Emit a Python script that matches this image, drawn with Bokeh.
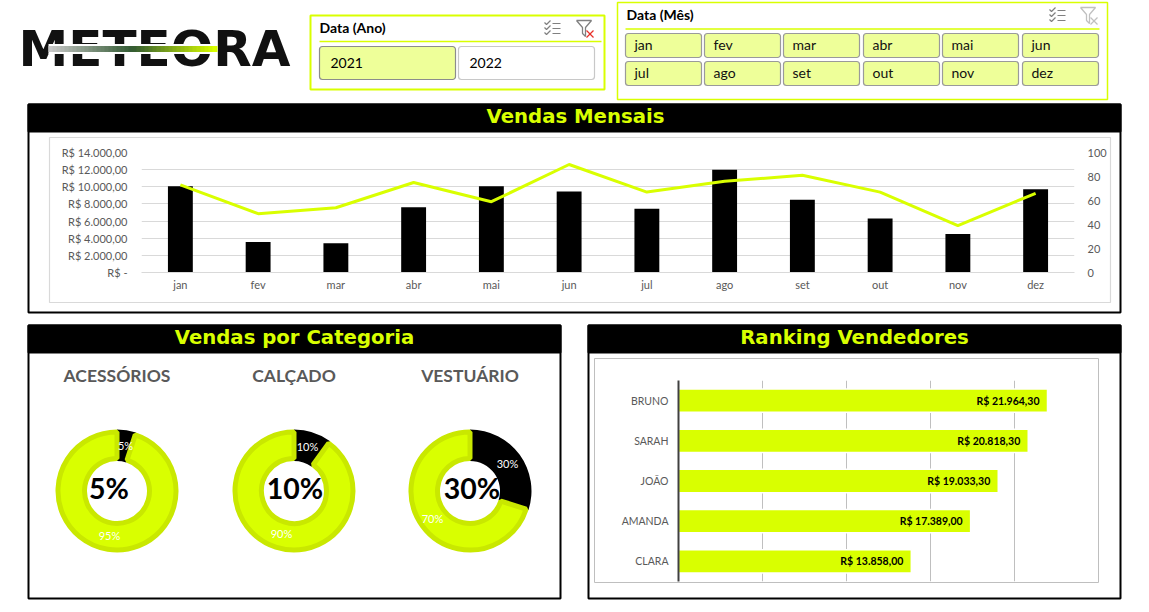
from math import pi
from bokeh.plotting import figure
from bokeh.layouts import column, row
from bokeh.models import Range1d, FactorRange, LinearAxis, FixedTicker, ColumnDataSource
from bokeh.core.properties import value
from bokeh.embed import file_html
from bokeh.resources import INLINE

# ---------- data ----------
months = ["jan", "fev", "mar", "abr", "mai", "jun", "jul", "ago", "set", "out", "nov", "dez"]
sales = [10050, 3550, 3400, 7600, 10050, 9450, 7450, 12000, 8500, 6300, 4500, 9700]
quantity = [73, 49, 54, 75, 59, 90, 67, 76, 81, 67, 39, 66]
sales_ticks = [0, 2000, 4000, 6000, 8000, 10000, 12000, 14000]
sales_tick_labels = ["R$ -", "R$ 2.000,00", "R$ 4.000,00", "R$ 6.000,00", "R$ 8.000,00",
                     "R$ 10.000,00", "R$ 12.000,00", "R$ 14.000,00"]
quantity_ticks = [0, 20, 40, 60, 80, 100]
categories = ["ACESSÓRIOS", "CALÇADO", "VESTUÁRIO"]
category_share = [5, 10, 30]
sellers = ["BRUNO", "SARAH", "JOÃO", "AMANDA", "CLARA"]
seller_values = [21964.30, 20818.30, 19033.30, 17389.00, 13858.00]
seller_labels = ["R$ 21.964,30", "R$ 20.818,30", "R$ 19.033,30", "R$ 17.389,00", "R$ 13.858,00"]
seller_ticks = [0, 5000, 10000, 15000, 20000, 25000]
years = ["2021", "2022"]

LIME = "#d9ff00"
LIME_DARK = "#c9e800"
SOFT = "#eeff99"
GREY_TXT = "#595959"
TXT_FONT = "Lato"
HEAD_FONT = "DejaVu Sans"


def bare(**kw):
    p = figure(output_backend="svg", toolbar_location=None, min_border=0, frame_align=False,
               x_axis_type=None, y_axis_type=None, **kw)
    p.outline_line_color = None
    p.grid.visible = False
    return p


def clear_bg(p):
    p.background_fill_color = None
    p.border_fill_color = None


# ---------- page backdrop: logo, slicers and panel frames ----------
bg = bare(width=1149, height=612, x_range=(0, 1149), y_range=(612, 0))


def txt(x, y, s, size, color="black", bold=False, font=TXT_FONT, align="left"):
    bg.text([x], [y], text=[s], text_font=value(font), text_font_size=f"{size}px", text_color=color,
            text_font_style="bold" if bold else "normal", text_align=align, text_baseline="middle")


def panel(l, t, r, b, title, tx):
    bg.quad(left=l, right=r, top=t, bottom=b, fill_color="white", line_color="black", line_width=2)
    bg.quad(left=l, right=r, top=t, bottom=t + 27, fill_color="black", line_color="black", line_width=2)
    txt(tx, t + 12, title, 19.7, color=LIME, bold=True, font=HEAD_FONT, align="center")


panel(28, 104, 1120, 312, "Vendas Mensais", 575)
panel(28, 325, 560, 598, "Vendas por Categoria", 294)
panel(588, 325, 1120, 598, "Ranking Vendedores", 854)
bg.quad(left=49, right=1110, top=137, bottom=302, fill_color=None, line_color="#d9d9d9", line_width=1.2)
bg.quad(left=594, right=1098, top=358, bottom=582, fill_color=None, line_color="#bfbfbf", line_width=1)

# logo
txt(154, 48, "METEORA", 50, color="#111111", bold=True, font=HEAD_FONT, align="center")
bg.quad(left=48, right=216, top=43.5, bottom=53.5, fill_color="white", line_color=None)
n_steps = 42
for i in range(n_steps):
    f = i / (n_steps - 1)
    c = (int(200 - 150 * min(f * 2, 1) + 167 * max(f * 2 - 1, 0)),
         int(200 - 110 * min(f * 2, 1) + 165 * max(f * 2 - 1, 0)),
         int(200 - 150 * min(f * 2, 1) - 50 * max(f * 2 - 1, 0)))
    bg.quad(left=48 + i * 4, right=53 + i * 4, top=45.5, bottom=51.5, fill_color="#%02x%02x%02x" % c, line_color=None)


def checklist(x, y):
    bg.multi_line([[x + 8, x + 16] for _ in range(3)], [[y + d, y + d] for d in (3, 8, 13)],
                  line_color="#808080", line_width=1.2)
    bg.multi_line([[x, x + 2, x + 6] for _ in range(3)], [[y + d, y + d + 2, y + d - 2] for d in (2, 7, 12)],
                  line_color="#808080", line_width=1.2)


def funnel(x, y, col, xcol):
    bg.line([x, x + 15, x + 9, x + 9, x + 6, x + 6, x], [y, y, y + 7, y + 16, y + 13, y + 7, y], line_color=col, line_width=1.3)
    bg.multi_line([[x + 10, x + 17], [x + 17, x + 10]], [[y + 10, y + 17], [y + 10, y + 17]], line_color=xcol, line_width=1.3)


# year slicer
bg.quad(left=310, right=604, top=15, bottom=89, fill_color="white", line_color=LIME, line_width=2)
txt(319, 27, "Data (Ano)", 14, bold=True)
bg.line([319, 601], [41, 41], line_color=LIME, line_width=1.5)
checklist(544, 20)
funnel(576, 20, "#808080", "#e8302a")
for i, y_txt in enumerate(years):
    left = 319 + i * 139
    bg.quad(left=left, right=left + 136, top=46, bottom=79, fill_color=SOFT if i == 0 else "white",
            line_color="#8c8c8c" if i == 0 else "#c8c8c8", line_width=1.2, border_radius=3)
    txt(left + 11, 62, y_txt, 14)

# month slicer
bg.quad(left=617, right=1107, top=2, bottom=99, fill_color="white", line_color=LIME, line_width=1.5)
txt(626, 14, "Data (Mês)", 14, bold=True)
bg.line([625, 1099], [28.5, 28.5], line_color=LIME, line_width=1.5)
checklist(1049, 7)
funnel(1080, 7, "#c0c0c0", "#c0c0c0")
col_left = [625, 704, 783, 863, 942, 1022]
for i, m in enumerate(months):
    left = col_left[i % 6]
    y0 = 33 if i < 6 else 61
    bg.quad(left=left, right=left + 76, top=y0, bottom=y0 + 24, fill_color=SOFT, line_color="#9a9a9a",
            line_width=1.2, border_radius=3)
    txt(left + 9, y0 + 10.5, m, 14, color="#111111")

# ---------- monthly chart ----------
p1 = figure(output_backend="svg", toolbar_location=None, width=1149, height=215, frame_align=False,
            x_range=FactorRange(factors=months), y_range=Range1d(0, 14000),
            min_border_left=141, min_border_right=75, min_border_top=49, min_border_bottom=46)
p1.outline_line_color = None
clear_bg(p1)
p1.extra_y_ranges = {"qty": Range1d(0, 100)}
p1.vbar(x=months, top=sales, width=0.32, fill_color="black", line_color=None)
p1.line(x=months, y=quantity, y_range_name="qty", line_color=LIME, line_width=3)
p1.yaxis.ticker = FixedTicker(ticks=sales_ticks)
p1.yaxis.major_label_overrides = dict(zip(sales_ticks, sales_tick_labels))
right_axis = LinearAxis(y_range_name="qty", ticker=FixedTicker(ticks=quantity_ticks))
p1.add_layout(right_axis, "right")
for ax in [p1.yaxis[0], right_axis, p1.xaxis[0]]:
    ax.axis_line_color = None
    ax.major_tick_line_color = None
    ax.major_tick_out = 0
    ax.minor_tick_line_color = None
    ax.major_label_text_color = GREY_TXT
    ax.major_label_text_font = TXT_FONT
    ax.major_label_text_font_size = "11px"
p1.yaxis[0].major_label_standoff = 14
right_axis.major_label_standoff = 13
p1.xaxis[0].major_label_standoff = 5
p1.xaxis[0].axis_line_color = "#d9d9d9"
p1.xgrid.grid_line_color = None
p1.ygrid.grid_line_color = "#d9d9d9"

# ---------- category donuts ----------
p2 = bare(width=575, height=294, x_range=(0, 575), y_range=(0, 294))
clear_bg(p2)
Y = lambda v: 612 - v
centers = [116.5, 293.5, 469.5]
cy = Y(490.5)
black_pos = [(125, 445), (307, 446), (507, 463)]
lime_pos = [(109, 535), (281, 533), (432, 518)]
text_dx = [-8, 1, 2]
for cat, share, cx, bp, lp, dx in zip(categories, category_share, centers, black_pos, lime_pos, text_dx):
    a = 2 * pi * share / 100
    p2.annular_wedge(x=[cx], y=[cy], inner_radius=30, outer_radius=61.5, start_angle=pi / 2 - a,
                     end_angle=pi / 2, direction="anticlock", fill_color="black", line_color=None)
    p2.annular_wedge(x=[cx], y=[cy], inner_radius=32.5, outer_radius=59, start_angle=pi / 2,
                     end_angle=5 * pi / 2 - a, direction="anticlock", fill_color=LIME, line_color=LIME_DARK, line_width=5)
    for pos, s in ((bp, share), (lp, 100 - share)):
        p2.text([pos[0]], [Y(pos[1])], text=[f"{s}%"], text_font=value(TXT_FONT), text_font_size="11px",
                text_color="white", text_align="center", text_baseline="middle")
    p2.text([cx + dx], [Y(487.5)], text=[f"{share}%"], text_font=value(TXT_FONT), text_font_size="28.5px", text_color="black",
            text_font_style="bold", text_align="center", text_baseline="middle")
    p2.text([cx], [Y(375)], text=[cat], text_font=value(TXT_FONT), text_font_size="17.5px", text_font_style="bold",
            text_color=GREY_TXT, text_align="center", text_baseline="middle")

# ---------- ranking ----------
p3 = figure(output_backend="svg", toolbar_location=None, width=574, height=294, frame_align=False,
            x_range=Range1d(0, 25000), y_range=FactorRange(factors=sellers[::-1]),
            min_border_left=103, min_border_right=51, min_border_top=62, min_border_bottom=31)
p3.outline_line_color = None
clear_bg(p3)
src = ColumnDataSource(dict(name=sellers, value=seller_values, text=seller_labels))
p3.hbar(y="name", right="value", height=0.58, source=src, fill_color=LIME, line_color="white", line_width=1.5)
p3.text(x="value", y="name", text="text", source=src, x_offset=-8, text_align="right", text_baseline="middle",
        text_font=value(TXT_FONT), text_font_size="10.5px", text_font_style="bold", text_color="black")
p3.xaxis.visible = False
p3.xaxis.ticker = FixedTicker(ticks=seller_ticks)
p3.xgrid.ticker = FixedTicker(ticks=seller_ticks)
p3.xgrid.grid_line_color = "#bfbfbf"
p3.ygrid.grid_line_color = None
p3.yaxis.axis_line_color = "#404040"
p3.yaxis.axis_line_width = 2
p3.yaxis.major_tick_line_color = None
p3.yaxis.major_tick_out = 0
p3.yaxis.minor_tick_line_color = None
p3.yaxis.major_label_text_color = GREY_TXT
p3.yaxis.major_label_text_font = TXT_FONT
p3.yaxis.major_label_text_font_size = "10.5px"
p3.yaxis.major_label_standoff = 10

charts = column(p1, row(p2, p3), margin=(-509, 0, 0, 0))
root = column(bg, charts)
open("out.html", "w").write(file_html(root, INLINE))
